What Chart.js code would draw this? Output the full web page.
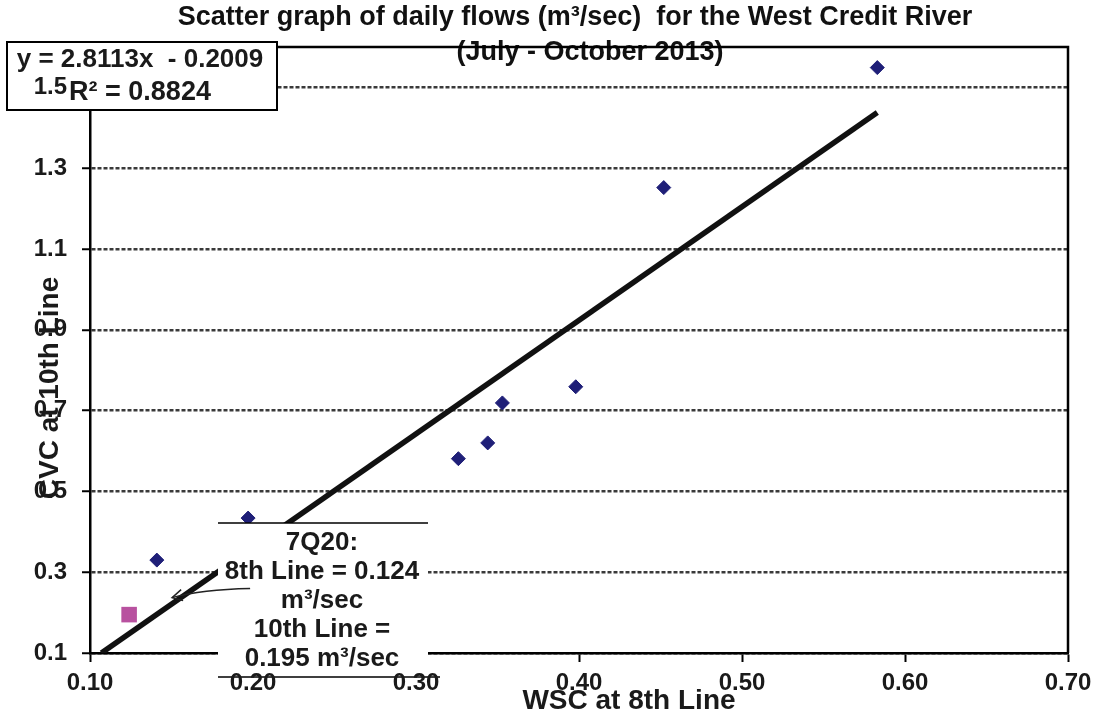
<!DOCTYPE html>
<html>
<head>
<meta charset="utf-8">
<script src="https://cdn.jsdelivr.net/npm/chart.js@4.4.0/dist/chart.umd.min.js"></script>
<style>
  html, body { margin: 0; padding: 0; background: #fff; }
</style>
</head>
<body>
<canvas id="flowChart" width="1099" height="719"></canvas>
<script>
// daily flows, WSC at 8th Line (x) vs CVC at 10th Line (y)
const wscFlows = [0.141, 0.197, 0.326, 0.344, 0.353, 0.398, 0.452, 0.583];
const cvcFlows = [0.330, 0.434, 0.581, 0.620, 0.719, 0.759, 1.252, 1.549];

// 7Q20 low flow point
const q20X = [0.124];
const q20Y = [0.195];

// linear trendline ends (y = 2.8113x - 0.2009)
const trendX = [0.107, 0.583];
const trendY = [0.100, 1.438];

const xTicks = [0.10, 0.20, 0.30, 0.40, 0.50, 0.60, 0.70];
const yTicks = [0.1, 0.3, 0.5, 0.7, 0.9, 1.1, 1.3, 1.5];

const titleLines = ['Scatter graph of daily flows (m\u00b3/sec)  for the West Credit River', '(July - October 2013)'];
const equationLines = ['y = 2.8113x  - 0.2009', 'R\u00b2 = 0.8824'];
const noteLines = ['7Q20:', '8th Line = 0.124', 'm\u00b3/sec', '10th Line =', '0.195 m\u00b3/sec'];

const FONT = "'Liberation Sans', Arial, Helvetica, sans-serif";

const overlay = {
    id: 'overlay',
    beforeDraw(chart) {
        const ctx = chart.ctx;
        ctx.save();
        ctx.fillStyle = '#fff';
        ctx.fillRect(0, 0, chart.width, chart.height);
        ctx.restore();
    },
    beforeDatasetsDraw(chart) {
        const {ctx, chartArea: a} = chart;
        ctx.save();
        // title
        ctx.fillStyle = '#111';
        ctx.font = 'bold 27px ' + FONT;
        ctx.textAlign = 'center';
        ctx.textBaseline = 'middle';
        ctx.fillText(titleLines[0], 575, 18);
        ctx.fillText(titleLines[1], 590, 53);
        // top and right frame
        ctx.strokeStyle = '#000';
        ctx.lineWidth = 2.5;
        ctx.beginPath();
        ctx.moveTo(a.left, a.top);
        ctx.lineTo(a.right, a.top);
        ctx.lineTo(a.right, a.bottom);
        ctx.stroke();
        ctx.restore();
    },
    afterDatasetsDraw(chart) {
        const ctx = chart.ctx;
        const xs = chart.scales.x, ys = chart.scales.y;
        ctx.save();

        // 7Q20 note box
        ctx.fillStyle = '#fff';
        ctx.fillRect(218, 523, 210, 154);
        ctx.strokeStyle = '#000';
        ctx.lineWidth = 1.5;
        ctx.beginPath();
        ctx.moveTo(218, 523); ctx.lineTo(428, 523);
        ctx.moveTo(218, 677); ctx.lineTo(440, 677);
        ctx.stroke();
        ctx.fillStyle = '#1a1a1a';
        ctx.font = 'bold 26px ' + FONT;
        ctx.textAlign = 'center';
        ctx.textBaseline = 'middle';
        noteLines.forEach((t, i) => ctx.fillText(t, 322, 543 + i * 29));

        // arrow toward the 7Q20 point
        const px = xs.getPixelForValue(q20X[0]);
        const py = ys.getPixelForValue(q20Y[0]);
        const tipX = px + 43, tipY = py - 17;
        ctx.strokeStyle = '#222';
        ctx.lineWidth = 1.5;
        ctx.beginPath();
        ctx.moveTo(tipX + 78, tipY - 9);
        ctx.quadraticCurveTo(tipX + 30, tipY - 8, tipX, tipY);
        ctx.stroke();
        ctx.beginPath();
        ctx.moveTo(tipX + 9, tipY - 8);
        ctx.lineTo(tipX, tipY);
        ctx.lineTo(tipX + 11, tipY + 3);
        ctx.stroke();

        // equation box
        ctx.fillStyle = '#fff';
        ctx.fillRect(7, 42, 270, 68);
        ctx.strokeStyle = '#000';
        ctx.lineWidth = 2;
        ctx.strokeRect(7, 42, 270, 68);
        ctx.fillStyle = '#1a1a1a';
        ctx.font = 'bold 26px ' + FONT;
        ctx.fillText(equationLines[0], 140, 60);
        ctx.font = 'bold 27px ' + FONT;
        ctx.fillText(equationLines[1], 140, 93);
        ctx.restore();
    },
    afterDraw(chart) {
        const ctx = chart.ctx;
        ctx.save();
        ctx.fillStyle = '#1a1a1a';
        ctx.font = 'bold 28px ' + FONT;
        ctx.textAlign = 'center';
        ctx.textBaseline = 'middle';
        ctx.fillText('WSC at 8th Line', 629, 701);
        ctx.translate(50, 388);
        ctx.rotate(-Math.PI / 2);
        ctx.fillText('CVC at 10th Line', 0, 0);
        ctx.restore();
    }
};

const toPoints = (xs, ys) => xs.map((x, i) => ({x: x, y: ys[i]}));

const ctx = document.getElementById('flowChart').getContext('2d');
const chart = new Chart(ctx, {
    type: 'scatter',
    data: {
        datasets: [{
            label: 'Daily flows',
            data: toPoints(wscFlows, cvcFlows),
            pointStyle: 'rectRot',
            pointRadius: 7,
            backgroundColor: '#1f1f78',
            borderColor: '#1f1f78',
            borderWidth: 1
        }, {
            label: '7Q20',
            data: toPoints(q20X, q20Y),
            pointStyle: 'rect',
            pointRadius: 11,
            backgroundColor: '#b8519f',
            borderColor: '#b8519f',
            borderWidth: 0
        }, {
            label: 'Trend',
            data: toPoints(trendX, trendY),
            showLine: true,
            pointRadius: 0,
            borderColor: '#111',
            borderWidth: 5.5
        }]
    },
    options: {
        responsive: false,
        animation: false,
        layout: {padding: {left: 0, right: 31, top: 47, bottom: 0}},
        plugins: {
            legend: {display: false},
            tooltip: {enabled: false}
        },
        scales: {
            x: {
                type: 'linear',
                min: 0.10,
                max: 0.70,
                afterBuildTicks: s => { s.ticks = xTicks.map(v => ({value: v})); },
                afterFit: s => { s.height = 66; },
                ticks: {
                    z: 1,
                    padding: 7,
                    color: '#1a1a1a',
                    font: {family: FONT, size: 24, weight: 'bold'},
                    callback: v => v.toFixed(2),
                    maxRotation: 0
                },
                grid: {drawOnChartArea: false, tickLength: 9, tickColor: '#000', tickWidth: 2},
                border: {color: '#000', width: 2.5}
            },
            y: {
                type: 'linear',
                min: 0.1,
                max: 1.6,
                afterBuildTicks: s => { s.ticks = yTicks.map(v => ({value: v})); },
                afterFit: s => { s.width = 90; },
                ticks: {
                    z: 1,
                    padding: 15,
                    color: '#1a1a1a',
                    font: {family: FONT, size: 24, weight: 'bold'},
                    callback: v => v.toFixed(1)
                },
                grid: {color: '#3a3a3a', lineWidth: 2.5, tickLength: 8, tickColor: '#000', tickWidth: 2},
                border: {color: '#000', width: 2.5, dash: [4, 2]}
            }
        }
    },
    plugins: [overlay]
});
</script>
</body>
</html>
